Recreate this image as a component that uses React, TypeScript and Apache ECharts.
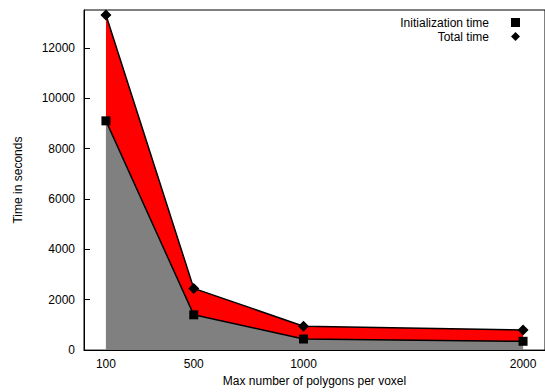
import React, { useEffect, useRef } from "react";
import * as echarts from "echarts";

const polygonsPerVoxel = [100, 500, 1000, 2000];
const initTime = [9100, 1400, 440, 350];
const totalTime = [13300, 2450, 950, 800];
const xTickValues = [100, 500, 1000, 2000];
const yTickValues = [0, 2000, 4000, 6000, 8000, 10000, 12000];

const FONT = "Liberation Sans, Arial, sans-serif";

export default function App() {
  const ref = useRef<HTMLDivElement>(null);
  useEffect(() => {
    if (!ref.current) return;
    const chart = echarts.init(ref.current, undefined, { renderer: "svg" });
    const pairs = (ys: number[]) => polygonsPerVoxel.map((x, i) => [x, ys[i]]);
    chart.setOption({
      animation: false,
      textStyle: { fontFamily: FONT },
      grid: {
        left: 84,
        top: 10,
        width: 466,
        height: 344,
        show: true,
        borderColor: "#000",
        borderWidth: 1,
        backgroundColor: "transparent",
      },
      legend: {
        orient: "vertical",
        right: 20,
        top: 11,
        align: "right",
        itemWidth: 9,
        itemHeight: 9,
        itemGap: 1,
        textStyle: { fontFamily: FONT, fontSize: 12, lineHeight: 13, color: "#000", padding: [0, 17, 0, 0] },
        data: [
          { name: "Initialization time", icon: "rect", itemStyle: { color: "#000" } },
          { name: "Total time", icon: "diamond", itemStyle: { color: "#000" } },
        ],
      },
      xAxis: {
        type: "value",
        min: 0,
        max: 2100,
        name: "Max number of polygons per voxel",
        nameLocation: "middle",
        nameGap: 22,
        nameTextStyle: { fontFamily: FONT, fontSize: 12, color: "#000" },
        axisLine: { show: true, lineStyle: { color: "#000", width: 1 } },
        axisTick: { show: false },
        splitLine: { show: false },
        axisLabel: {
          customValues: xTickValues,
          formatter: (v: number) => String(v),
          fontFamily: FONT,
          fontSize: 12,
          color: "#000",
          margin: 8,
        },
      },
      yAxis: {
        type: "value",
        min: 0,
        max: 13500,
        name: "Time in seconds",
        nameLocation: "middle",
        nameGap: 60,
        nameTextStyle: { fontFamily: FONT, fontSize: 12, color: "#000" },
        axisLine: { show: true, lineStyle: { color: "#000", width: 1 } },
        axisTick: { show: true, inside: true, length: 6, customValues: yTickValues, lineStyle: { color: "#000" } },
        splitLine: { show: false },
        axisLabel: {
          customValues: yTickValues,
          formatter: (v: number) => String(v),
          fontFamily: FONT,
          fontSize: 12,
          color: "#000",
          margin: 9,
        },
      },
      series: [
        {
          name: "Total time",
          type: "line",
          data: pairs(totalTime),
          symbol: "diamond",
          symbolSize: 11,
          itemStyle: { color: "#000" },
          lineStyle: { color: "#000", width: 1.5 },
          areaStyle: { color: "#ff0000", opacity: 1 },
          z: 2,
        },
        {
          name: "Initialization time",
          type: "line",
          data: pairs(initTime),
          symbol: "rect",
          symbolSize: 9,
          itemStyle: { color: "#000" },
          lineStyle: { color: "#000", width: 1.5 },
          areaStyle: { color: "#808080", opacity: 1 },
          z: 3,
        },
      ],
    });
    return () => chart.dispose();
  }, []);
  return <div ref={ref} style={{ width: 545, height: 392, position: "absolute", left: 0, top: 0 }} />;
}
